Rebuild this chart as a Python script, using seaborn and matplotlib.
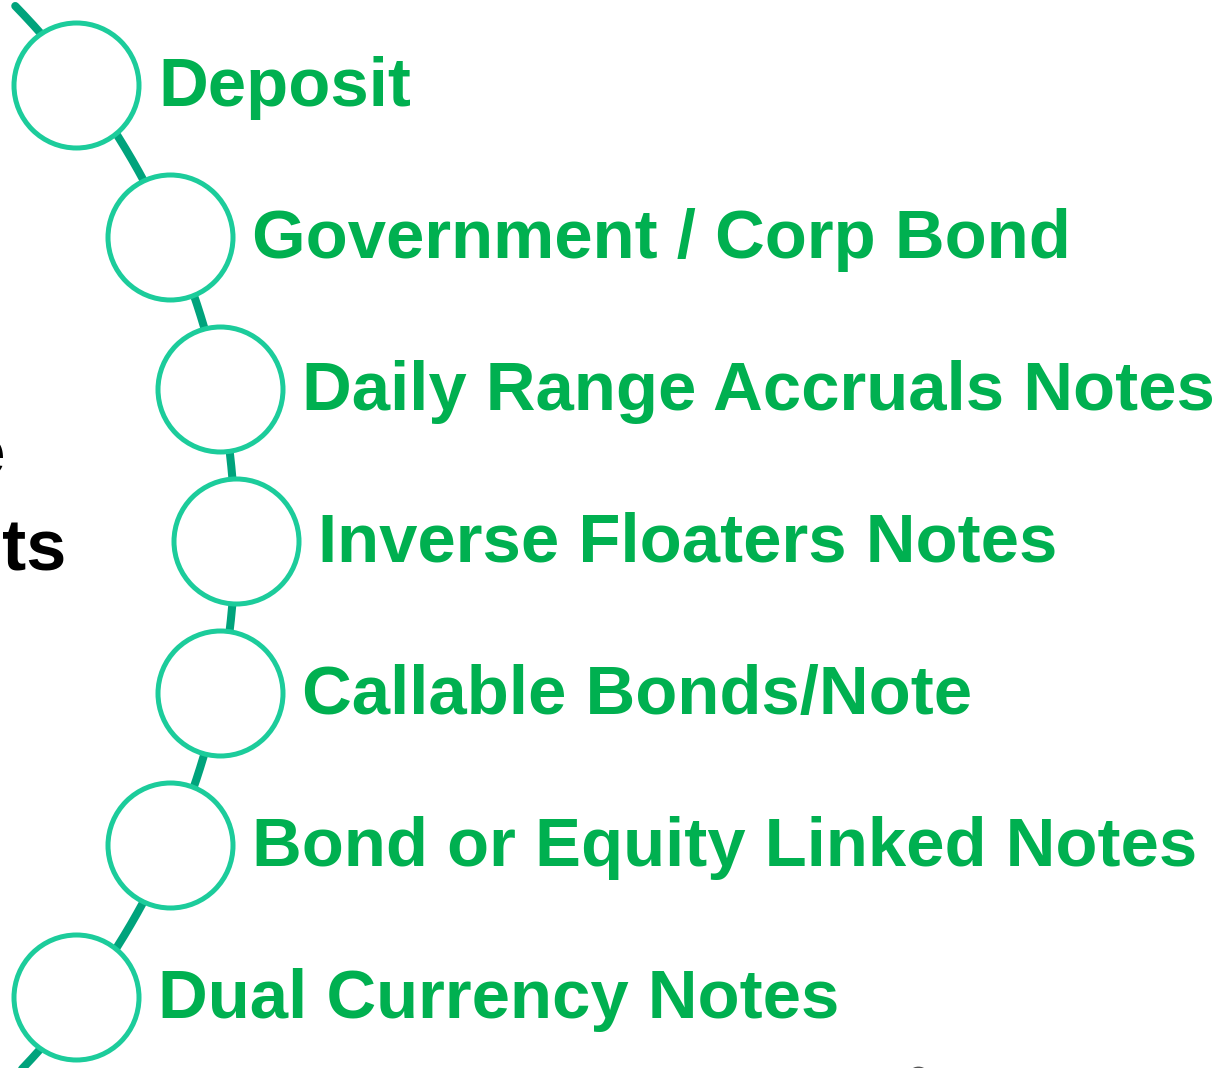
import numpy as np
import pandas as pd
import matplotlib.pyplot as plt
import seaborn as sns

labels = ["Deposit", "Government / Corp Bond", "Daily Range Accruals Notes",
          "Inverse Floaters Notes", "Callable Bonds/Note",
          "Bond or Equity Linked Notes", "Dual Currency Notes"]
side_text = ["Structure", "Products"]

sns.set_theme(style="white")
plt.rcParams["font.family"] = ["Liberation Sans", "DejaVu Sans"]

fig = plt.figure(figsize=(12.22, 10.68), dpi=100)
ax = fig.add_axes([0, 0, 1, 1])
ax.set_xlim(0, 1222)
ax.set_ylim(1068, 0)
ax.axis("off")

# items sit on a big arc, evenly spaced vertically
cx, cy, R = -495, 541, 731
step = 152
ys = cy + step * (np.arange(len(labels)) - 3)
xs = cx + np.sqrt(R**2 - (ys - cy) ** 2)
df = pd.DataFrame({"x": xs, "y": ys, "label": labels})

# connector arc (slightly elliptical)
ecx, ea, eb = -572, 807, 780
arc_y = np.linspace(6, 1120, 400)
arc = pd.DataFrame({"x": ecx + ea * np.sqrt(np.clip(1 - ((arc_y - cy) / eb) ** 2, 0, None)),
                    "y": arc_y})
sns.lineplot(data=arc, x="x", y="y", sort=False, estimator=None, color="#00a37c",
             linewidth=5.8, ax=ax, zorder=1)

sns.scatterplot(data=df, x="x", y="y", s=8100, marker="o", color="white",
                edgecolor="#1ccc9b", linewidth=3.6, ax=ax, zorder=2, legend=False)

for _, r in df.iterrows():
    ax.text(r["x"] + 82, r["y"] + 21, r["label"], fontsize=49.6, fontweight="bold",
            color="#00b050", va="baseline", zorder=3)

# partially visible title on the left edge (cut off in the original too)
ax.text(6, 476, side_text[0], fontsize=52, fontweight="bold", color="black",
        ha="right", va="baseline")
ax.text(66, 570, side_text[1], fontsize=52, fontweight="bold", color="black",
        ha="right", va="baseline")

ax.scatter([918], [1078], s=260, color="#555555", zorder=3)
ax.set_xlim(0, 1222)
ax.set_ylim(1068, 0)

fig.savefig("out.png", dpi=100)
